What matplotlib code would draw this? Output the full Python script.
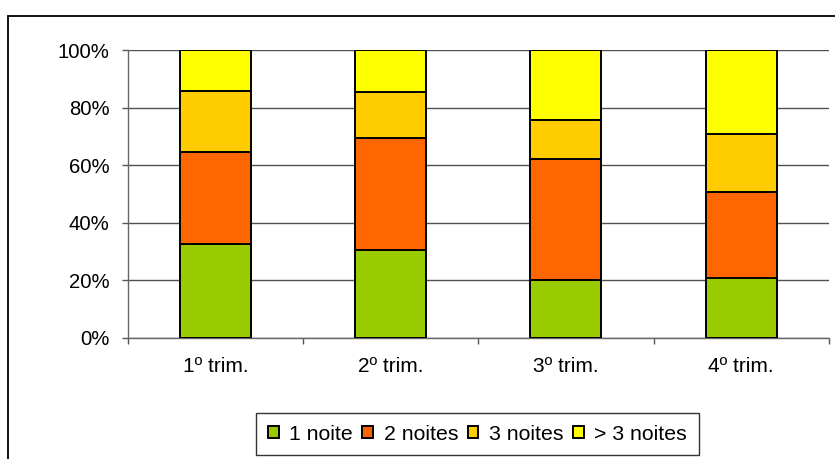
import matplotlib
matplotlib.use("Agg")
import matplotlib.pyplot as plt
from matplotlib.patches import Rectangle
from matplotlib.ticker import FixedLocator, PercentFormatter
import numpy as np

plt.rcParams['font.family'] = ['Liberation Sans', 'DejaVu Sans']

# Quarterly share of stays by number of nights (%)
quarters = ["1º trim.", "2º trim.", "3º trim.", "4º trim."]
series_names = ["1 noite", "2 noites", "3 noites", "> 3 noites"]
one_night = [32.7, 30.5, 20.0, 20.8]
two_nights = [32.0, 38.8, 42.0, 29.8]
three_nights = [20.9, 16.2, 13.7, 20.2]
more_nights = [14.4, 14.5, 24.3, 29.2]
colors = ["#99CC00", "#FF6600", "#FFCC00", "#FFFF00"]

fig = plt.figure(figsize=(8.35, 4.59), dpi=100)
fig.patch.set_facecolor("white")

# Chart area frame
fig.patches.append(Rectangle((8 / 835, -0.2), 1.2, (459 - 16) / 459 + 0.2,
                             transform=fig.transFigure, fill=False,
                             edgecolor="black", linewidth=1.3))

ax = fig.add_axes([128 / 835, 121.3 / 459, 700.7 / 835, 287.7 / 459])

x = np.arange(len(quarters))
bottom = np.zeros(len(quarters))
for name, vals, col in zip(series_names,
                           [one_night, two_nights, three_nights, more_nights],
                           colors):
    ax.bar(x, vals, width=0.406, bottom=bottom, color=col,
           edgecolor="black", linewidth=1.4, label=name, zorder=3)
    bottom += np.array(vals)

ax.set_xlim(-0.5, len(quarters) - 0.5)
ax.set_ylim(0, 100)
ax.set_yticks(np.arange(0, 101, 20))
ax.yaxis.set_major_formatter(PercentFormatter(decimals=0))
ax.set_xticks(x)
ax.set_xticklabels(quarters)
ax.xaxis.set_minor_locator(FixedLocator(np.arange(-0.5, len(quarters), 1.0)))

ax.tick_params(axis="x", which="major", length=0, pad=14, labelsize=15)
ax.tick_params(axis="x", which="minor", length=4.5, width=1, color="#555555",
               direction="out")
ax.tick_params(axis="y", length=4.5, width=1, color="#555555", pad=9,
               labelsize=14.6)

ax.grid(axis="y", color="#505050", linewidth=1)
ax.set_axisbelow(True)
for s in ["top", "right"]:
    ax.spines[s].set_visible(False)
for s in ["left", "bottom"]:
    ax.spines[s].set_color("#666666")
    ax.spines[s].set_linewidth(1)

leg = fig.legend(loc="center", bbox_to_anchor=(477.5 / 835, 25 / 459), ncol=4,
                 fontsize=15.3, frameon=True, fancybox=False, handlelength=0.5,
                 handleheight=0.5, handletextpad=0.5, columnspacing=0.45,
                 borderpad=0.55, borderaxespad=0)
leg.get_frame().set_edgecolor("black")
leg.get_frame().set_linewidth(1)

fig.savefig("out.png", dpi=100)
